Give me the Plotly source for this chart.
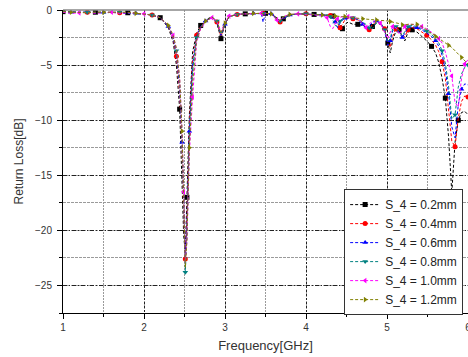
import plotly.graph_objects as go

# ---------------- data ----------------
freq_low = [1.0, 1.1, 1.2, 1.3, 1.4, 1.5, 1.6, 1.7, 1.8, 1.9, 2.0, 2.1, 2.2,
            2.3, 2.36, 2.4, 2.44, 2.47, 2.49, 2.51, 2.53, 2.56, 2.6,
            2.65, 2.7, 2.76, 2.84, 2.9, 2.95, 3.0, 3.05, 3.15, 3.25, 3.35, 3.45,
            3.47, 3.5, 3.57, 3.64, 3.68, 3.72, 3.8, 3.9, 4.0, 4.1, 4.2]
freq_high = [4.26, 4.3, 4.33, 4.36, 4.39, 4.42, 4.45, 4.48, 4.52, 4.58, 4.64,
             4.7, 4.74, 4.78, 4.82, 4.87, 4.92, 4.97, 5.01, 5.04, 5.07, 5.11,
             5.15, 5.19, 5.22, 5.26, 5.31, 5.37, 5.43, 5.49, 5.55, 5.6, 5.64,
             5.68, 5.72, 5.76, 5.8, 5.84, 5.88, 5.92, 5.96, 6.0]
frequency = freq_low + freq_high

series_names = ["S_4 = 0.2mm", "S_4 = 0.4mm", "S_4 = 0.6mm",
                "S_4 = 0.8mm", "S_4 = 1.0mm", "S_4 = 1.2mm"]

rl_02 = ([-0.15, -0.2, -0.2, -0.25, -0.2, -0.2, -0.25, -0.2, -0.25, -0.3, -0.35, -0.45, -0.7]
         + [-1.6, -2.9, -5.0, -9.0, -15.0, -20.5, -22.0, -17.0, -9.5, -3.8]
         + [-2.1, -1.4, -0.9, -0.6, -1.2, -2.6, -1.3, -0.6, -0.4, -0.35, -0.3, -0.3,
            -0.3, -0.3, -0.35, -0.7, -1.1, -0.8, -0.45, -0.35, -0.35, -0.4, -0.45]
         + [-0.45, -0.5, -0.55, -0.65, -0.85, -1.3, -1.7, -1.3, -1.1, -1.3, -1.3,
            -1.4, -1.6, -1.9, -1.5, -1.2, -1.3, -1.8, -3.0, -3.9, -2.8, -1.9,
            -1.8, -2.3, -2.8, -2.0, -1.8, -2.0, -2.4, -2.8, -3.3, -3.9, -4.8,
            -6.2, -8.0, -11.5, -16.6, -12.0, -10.0, -9.3, -9.2, -9.5])
rl_04 = ([-0.15, -0.2, -0.25, -0.2, -0.2, -0.25, -0.2, -0.25, -0.25, -0.3, -0.35, -0.45, -0.7]
         + [-1.5, -2.6, -4.2, -7.5, -12.5, -18.5, -22.6, -19.0, -10.5, -4.6]
         + [-2.3, -1.5, -1.0, -0.65, -1.1, -2.4, -1.3, -0.6, -0.4, -0.35, -0.3, -0.3,
            -0.3, -0.3, -0.35, -0.7, -1.1, -0.8, -0.45, -0.35, -0.35, -0.4, -0.45]
         + [-0.45, -0.5, -0.6, -0.8, -1.2, -1.6, -1.3, -0.9, -0.75, -0.8, -0.9,
            -1.2, -1.6, -1.8, -1.3, -1.1, -1.2, -1.7, -2.9, -3.4, -2.4, -1.7,
            -1.8, -2.5, -2.4, -1.8, -1.6, -1.7, -2.0, -2.3, -2.7, -3.2, -3.8,
            -4.7, -6.2, -8.8, -11.9, -12.4, -9.8, -8.3, -7.8, -7.9])
rl_06 = ([-0.15, -0.2, -0.2, -0.2, -0.25, -0.2, -0.2, -0.25, -0.3, -0.3, -0.35, -0.45, -0.7]
         + [-1.5, -2.5, -3.9, -7.0, -12.0, -18.0, -22.3, -19.5, -11.0, -5.0]
         + [-2.4, -1.5, -1.0, -0.65, -1.1, -2.3, -1.3, -0.6, -0.4, -0.35, -0.3, -0.35,
            -1.1, -0.3, -0.35, -0.75, -1.1, -0.8, -0.45, -0.35, -0.35, -0.4, -0.45]
         + [-0.45, -0.55, -0.7, -1.1, -1.6, -1.2, -0.9, -0.75, -0.7, -0.75, -0.85,
            -1.3, -1.7, -1.5, -1.1, -1.0, -1.2, -1.9, -3.2, -2.8, -1.9, -1.6,
            -2.0, -2.5, -2.1, -1.6, -1.5, -1.6, -1.8, -2.1, -2.4, -2.8, -3.3,
            -4.1, -5.4, -7.6, -10.6, -11.6, -8.6, -7.2, -6.7, -6.8])
rl_08 = ([-0.2, -0.2, -0.25, -0.2, -0.2, -0.3, -0.2, -0.2, -0.25, -0.3, -0.35, -0.45, -0.7]
         + [-1.4, -2.4, -3.7, -6.6, -11.5, -17.5, -23.8, -20.5, -11.5, -5.5]
         + [-2.5, -1.6, -1.0, -0.65, -1.0, -2.2, -1.2, -0.6, -0.4, -0.35, -0.3, -0.3,
            -0.3, -0.3, -0.35, -0.8, -1.0, -0.7, -0.45, -0.35, -0.35, -0.4, -0.45]
         + [-0.45, -0.6, -0.9, -1.4, -1.5, -1.0, -0.8, -0.7, -0.65, -0.7, -0.85,
            -1.1, -1.3, -1.6, -1.7, -1.1, -1.1, -1.8, -2.9, -2.6, -1.7, -1.5,
            -2.0, -2.3, -1.9, -1.5, -1.4, -1.5, -1.7, -1.9, -2.2, -2.6, -3.0,
            -3.7, -4.8, -6.9, -9.9, -9.5, -7.0, -5.8, -5.2, -5.0])
rl_10 = ([-0.2, -0.3, -0.25, -0.2, -0.3, -0.25, -0.2, -0.3, -0.25, -0.3, -0.35, -0.45, -0.7]
         + [-1.4, -2.3, -3.5, -6.2, -11.0, -16.5, -22.9, -21.0, -13.0, -7.9]
         + [-2.9, -1.7, -1.1, -0.7, -1.0, -2.0, -1.1, -0.55, -0.4, -0.35, -0.3, -0.3,
            -0.3, -0.3, -0.4, -0.9, -1.0, -0.6, -0.4, -0.35, -0.4, -0.45, -0.5]
         + [-0.7, -1.5, -1.7, -1.2, -0.8, -0.65, -0.6, -0.6, -0.6, -0.65, -0.8,
            -1.2, -1.6, -1.3, -1.0, -1.0, -1.2, -2.0, -2.6, -2.0, -1.5, -1.6,
            -2.2, -1.8, -1.5, -1.3, -1.3, -1.4, -1.5, -1.7, -2.0, -2.3, -2.6,
            -3.0, -3.8, -4.8, -6.0, -8.4, -8.8, -6.2, -4.9, -4.5])
rl_12 = ([-0.15, -0.2, -0.2, -0.25, -0.2, -0.2, -0.25, -0.2, -0.2, -0.3, -0.35, -0.45, -0.7]
         + [-1.4, -2.3, -3.5, -6.2, -11.0, -17.0, -23.4, -20.8, -12.5, -6.6]
         + [-2.7, -1.6, -1.0, -0.65, -1.0, -2.1, -1.2, -0.6, -0.4, -0.35, -0.3, -0.3,
            -0.3, -0.3, -0.35, -0.85, -0.95, -0.6, -0.4, -0.35, -0.35, -0.4, -0.45]
         + [-0.5, -0.5, -0.55, -0.55, -0.55, -0.6, -0.6, -0.6, -0.65, -0.7, -0.75,
            -0.8, -0.82, -0.85, -0.88, -0.9, -0.93, -0.97, -1.0, -1.05, -1.1, -1.2,
            -1.3, -1.35, -1.35, -1.3, -1.3, -1.3, -1.5, -1.8, -2.1, -2.4, -2.6,
            -2.8, -3.0, -3.2, -3.4, -3.7, -4.0, -4.3, -4.6, -4.9])
series_values = [rl_02, rl_04, rl_06, rl_08, rl_10, rl_12]

x_tick_vals = [1, 2, 3, 4, 5, 6]
y_tick_vals = [0, -5, -10, -15, -20, -25]

# ---------------- styles ----------------
colors = ["#000000", "#ff0000", "#0000ff", "#008080", "#ff00ff", "#808000"]
symbols = ["square", "circle", "triangle-up", "triangle-down",
           "triangle-left", "triangle-right"]

fig = go.Figure()
for name, vals, col, sym in zip(series_names, series_values, colors, symbols):
    fig.add_trace(go.Scatter(
        x=frequency, y=vals, name=name, mode="lines+markers",
        line=dict(color=col, width=1, dash="3px,2px"),
        marker=dict(color=col, symbol=sym, size=5, maxdisplayed=26),
    ))

font_family = "Liberation Sans, Arial, sans-serif"
fig.update_layout(
    width=468, height=357,
    margin=dict(l=63, r=0, t=10, b=44, autoexpand=False),
    paper_bgcolor="white", plot_bgcolor="white",
    font=dict(family=font_family, size=10, color="#333"),
    showlegend=True,
    legend=dict(
        x=0.988, y=-0.007, xanchor="right", yanchor="bottom",
        bgcolor="white", bordercolor="#333", borderwidth=1,
        font=dict(size=12, color="#222", family=font_family),
        tracegroupgap=0, itemwidth=30,
    ),
    xaxis=dict(
        range=[1, 6], tickvals=x_tick_vals, automargin=False,
        ticklabeloverflow="allow",
        showline=True, linecolor="black", linewidth=1,
        ticks="outside", ticklen=5, tickcolor="black",
        showgrid=True, gridcolor="#222", gridwidth=1, griddash="2px,2px",
        minor=dict(dtick=0.5, ticks="outside", ticklen=3, tickcolor="black",
                   showgrid=True, gridcolor="#9a9a9a", gridwidth=1, griddash="2px,1px"),
        zeroline=False,
        title=dict(text="Frequency[GHz]", font=dict(size=13, color="#333"), standoff=8),
        tickfont=dict(size=10, color="#333"),
    ),
    yaxis=dict(
        range=[-27.5, 0], tickvals=y_tick_vals, automargin=False,
        ticklabeloverflow="allow",
        showline=True, linecolor="black", linewidth=1,
        ticks="outside", ticklen=5, tickcolor="black",
        showgrid=True, gridcolor="#222", gridwidth=1, griddash="4px,2px,1px,2px",
        minor=dict(dtick=2.5, ticks="outside", ticklen=3, tickcolor="black",
                   showgrid=True, gridcolor="#9a9a9a", gridwidth=1, griddash="3px,1px"),
        zeroline=False, ticklabelstandoff=3,
        title=dict(text="Return Loss[dB]", font=dict(size=12, color="#333"), standoff=8),
        tickfont=dict(size=10, color="#333"),
    ),
    shapes=[dict(type="line", xref="paper", yref="paper", x0=0, x1=1, y0=1, y1=1,
                 line=dict(color="#888", width=1.5))],
)

# remove the browser's default 8px page margin so the figure fills the window
fig.write_html("out.html",
               config={"displayModeBar": False},
               post_script="document.body.style.margin='0';document.body.style.overflow='hidden';")
